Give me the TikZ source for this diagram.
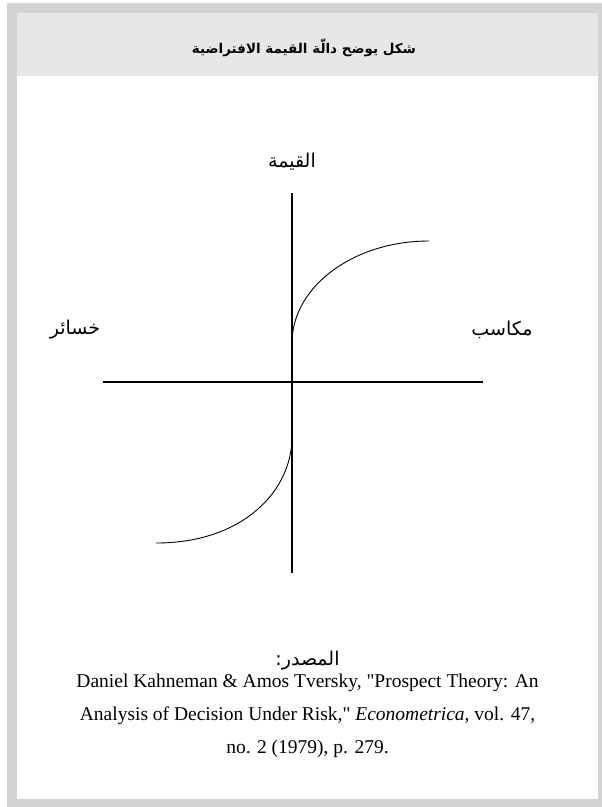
\documentclass[tikz,border=0pt]{standalone}
\usepackage{fontspec}
\setmainfont{Liberation Serif}
\newfontfamily\arabicfont[Script=Arabic]{DejaVu Sans}
\TeXXeTstate=1
\usetikzlibrary{positioning}
\definecolor{framegray}{HTML}{D1D3D4}
\definecolor{bandgray}{HTML}{E6E7E8}

\begin{document}
\begin{tikzpicture}[x=1pt,y=-1pt,
  axis/.style={line width=1.2pt},
  curve/.style={line width=.9pt},
  lbl/.style={font=\arabicfont\fontsize{19}{22}\selectfont}]
\useasboundingbox (0,0) rectangle (602,807);
% frame and title band
\fill[framegray] (7,3) rectangle (602,807);
\fill[white] (17,13) rectangle (598,799);
\fill[bandgray] (17,13) rectangle (598,76);
\node[font=\arabicfont\bfseries\fontsize{13.5}{16}\selectfont] (title) at (304,48) {\beginR شكل يوضح دالّة القيمة الافتراضية\endR};
% axes
\coordinate (o) at (292,382);
\coordinate (xl) at (103,382);
\coordinate (xr) at (483,382);
\coordinate (yt) at (292,193);
\coordinate (yb) at (292,573);
\draw[axis] (xl)--(xr);
\draw[axis] (yt)--(yb);
% value curve
\coordinate (g0) at (292,343);
\coordinate (g1) at (429,241);
\coordinate (l0) at (292,437);
\coordinate (l1) at (156,543);
\draw[curve] (g0) .. controls (292,287) and (353,241) .. (g1);
\draw[curve] (l0) .. controls (292,490) and (244,543) .. (l1);
% labels
\node[lbl] (val) at (292,162) {\beginR القيمة\endR};
\node[lbl] (loss) at (75,330) {\beginR خسائر\endR};
\node[lbl] (gain) at (502,330) {\beginR مكاسب\endR};
\node[lbl] (src) at (307.5,661) {\beginR المصدر:\endR};
\node[font=\fontsize{19.5}{33}\selectfont,align=center] (ref) at (307.5,716)
  {Daniel Kahneman \& Amos Tversky, \textquotedbl Prospect Theory: An\\
   Analysis of Decision Under Risk,\textquotedbl{} \textit{Econometrica}, vol. 47,\\
   no. 2 (1979), p. 279.};
\end{tikzpicture}
\end{document}
